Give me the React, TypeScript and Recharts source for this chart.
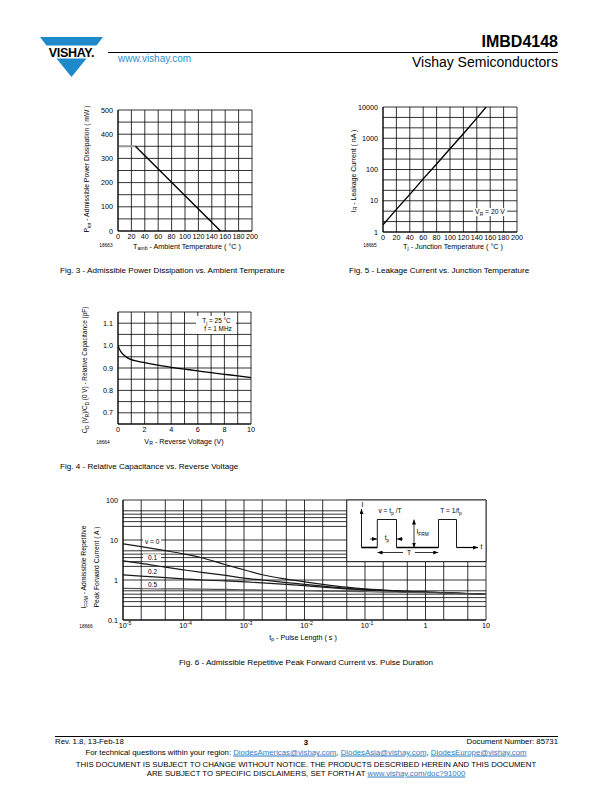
import React from 'react';
import { LineChart, Line, XAxis, YAxis, CartesianGrid, ReferenceArea } from 'recharts';

const FONT = '"Liberation Sans", Arial, Helvetica, sans-serif';

// ---------- Fig. 3 data ----------
const fig3XTicks = [0, 20, 40, 60, 80, 100, 120, 140, 160, 180, 200];
const fig3YTicks = [0, 50, 100, 150, 200, 250, 300, 350, 400, 450, 500];
const fig3Temp = [0, 26, 153];
const fig3FlatPower = [350, 350, null];
const fig3SlopePower = [null, 350, 0];

// ---------- Fig. 5 data ----------
const fig5XTicks = [0, 20, 40, 60, 80, 100, 120, 140, 160, 180, 200];
const fig5YTicks = [1, 2.154, 4.642, 10, 21.54, 46.42, 100, 215.4, 464.2, 1000, 2154, 4642, 10000];
const fig5YLabels = [1, 10, 100, 1000, 10000];
const fig5Temp = [0, 20, 40, 60, 80, 100, 120, 140, 154];
const fig5Leak = [1.7, 5.3, 16, 50, 150, 460, 1400, 4400, 10000];

// ---------- Fig. 4 data ----------
const fig4XTicks = [0, 1, 2, 3, 4, 5, 6, 7, 8, 9, 10];
const fig4YTicks = [0.65, 0.7, 0.75, 0.8, 0.85, 0.9, 0.95, 1.0, 1.05, 1.1, 1.15];
const fig4YLabels = [0.7, 0.8, 0.9, 1.0, 1.1];
const fig4Vr = [0, 0.1, 0.25, 0.5, 1, 1.5, 2, 3, 4, 5, 6, 7, 8, 9, 10];
const fig4Cap = [1.0, 0.985, 0.97, 0.955, 0.937, 0.93, 0.924, 0.913, 0.903, 0.895, 0.887, 0.879, 0.872, 0.865, 0.857];

// ---------- Fig. 6 data ----------
const fig6XTicks = [1e-5, 2e-5, 5e-5, 1e-4, 2e-4, 5e-4, 1e-3, 2e-3, 5e-3, 0.01, 0.02, 0.05, 0.1, 0.2, 0.5, 1, 2, 5, 10];
const fig6XLabels = [1e-5, 1e-4, 1e-3, 0.01, 0.1, 1, 10];
const fig6YTicks = [0.1, 0.219, 0.288, 0.363, 0.442, 0.537, 1, 2.19, 2.88, 3.63, 4.42, 5.37, 10, 21.9, 28.8, 36.3, 44.2, 53.7, 100];
const fig6YLabels = [0.1, 1, 10, 100];
const fig6Tp = [1e-5, 2e-5, 5e-5, 1e-4, 2e-4, 5e-4, 1e-3, 2e-3, 5e-3, 0.01, 0.02, 0.05, 0.1, 0.2, 0.5, 1, 2, 5, 10];
const fig6V0 = [8, 6.8, 5.4, 4.5, 3.6, 2.4, 1.8, 1.35, 1.05, 0.9, 0.78, 0.66, 0.6, 0.56, 0.52, 0.5, 0.48, 0.46, 0.44];
const fig6V01 = [3.0, 2.6, 2.1, 1.8, 1.55, 1.3, 1.12, 1.0, 0.86, 0.78, 0.7, 0.62, 0.58, 0.55, 0.52, 0.5, 0.48, 0.46, 0.44];
const fig6V02 = [1.35, 1.25, 1.15, 1.07, 1.0, 0.95, 0.9, 0.85, 0.78, 0.72, 0.66, 0.6, 0.56, 0.54, 0.51, 0.5, 0.48, 0.46, 0.44];
const fig6V05 = [0.62, 0.61, 0.6, 0.6, 0.59, 0.58, 0.57, 0.56, 0.55, 0.54, 0.53, 0.52, 0.51, 0.5, 0.49, 0.48, 0.47, 0.45, 0.44];
const fig6InsetX = [0.05, 10];
const fig6InsetY = [2.88, 100];

// ---------- derived tables ----------
const fig3Data = fig3Temp.map((t, i) => ({ t, flat: fig3FlatPower[i], slope: fig3SlopePower[i] }));
const fig5Data = fig5Temp.map((t, i) => ({ t, ir: fig5Leak[i] }));
const fig4Data = fig4Vr.map((v, i) => ({ v, c: fig4Cap[i] }));
const fig6Data = fig6Tp.map((tp, i) => ({ tp, a: fig6V0[i], b: fig6V01[i], c: fig6V02[i], d: fig6V05[i] }));

const tickStyle = { fontSize: 7.2, fill: '#000', fontFamily: FONT };
const GRID = { stroke: '#000', strokeWidth: 0.8 };

type TP = {
  x: number; y: number; size?: number; anchor?: 'start' | 'middle' | 'end';
  bold?: boolean; color?: string; bg?: string; children: React.ReactNode; pad?: string;
};
function Txt({ x, y, size = 7, anchor = 'start', bold = false, color = '#000', bg, children, pad }: TP) {
  const tx = anchor === 'start' ? '0' : anchor === 'middle' ? '-50%' : '-100%';
  return (
    <div style={{
      position: 'absolute', left: x, top: y, transform: `translate(${tx},-50%)`,
      fontSize: size, lineHeight: 1.15, fontWeight: bold ? 700 : 400, color, whiteSpace: 'nowrap',
      background: bg, fontFamily: FONT, padding: pad,
    }}>{children}</div>
  );
}
function VTxt({ x, y, size = 6.8, children }: { x: number; y: number; size?: number; children: React.ReactNode }) {
  return (
    <div style={{
      position: 'absolute', left: x, top: y, transform: 'translate(-50%,-50%) rotate(-90deg)',
      fontSize: size, lineHeight: 1.15, whiteSpace: 'nowrap', fontFamily: FONT, color: '#000',
    }}>{children}</div>
  );
}
const Sb = ({ children }: { children: React.ReactNode }) => (
  <span style={{ fontSize: '0.72em', verticalAlign: '-0.3em', lineHeight: 0 }}>{children}</span>
);
const A = ({ children }: { children: React.ReactNode }) => (
  <span style={{ color: '#2f7dc0', textDecoration: 'underline' }}>{children}</span>
);

const PowTick = (props: any) => {
  const { x, y, payload } = props;
  const v = payload.value as number;
  if (!fig6XLabels.includes(v)) return <g />;
  const e = Math.round(Math.log10(v));
  if (e >= 0) {
    return <text x={x} y={y} dy="0.71em" textAnchor="middle" fontSize={7.2} fontFamily={FONT} fill="#000">{e === 0 ? '1' : '10'}</text>;
  }
  return (
    <text x={x + 2} y={y} dy="0.71em" textAnchor="middle" fontSize={7.2} fontFamily={FONT} fill="#000">
      10<tspan dy={-3} fontSize={5.2}>{'-' + -e}</tspan>
    </text>
  );
};

function Fig3() {
  return (
    <div style={{ position: 'absolute', left: 88, top: 104 }}>
      <LineChart width={172} height={141} data={fig3Data} margin={{ top: 6, right: 8, bottom: 0, left: 0 }}>
        <CartesianGrid {...GRID} />
        <XAxis type="number" dataKey="t" domain={[0, 200]} ticks={fig3XTicks} interval={0} allowDataOverflow
          tickLine={false} tickSize={0} tickMargin={3} height={14} axisLine={{ stroke: '#000' }} tick={tickStyle} />
        <YAxis type="number" domain={[0, 500]} ticks={fig3YTicks} interval={0} allowDataOverflow
          width={30} tickLine={false} tickSize={0} tickMargin={5} axisLine={{ stroke: '#000' }} tick={tickStyle}
          tickFormatter={(v: number) => (v % 100 === 0 ? String(v) : '')} />
        <Line dataKey="flat" type="linear" stroke="#9a9a9a" strokeWidth={2} dot={false} connectNulls={false} isAnimationActive={false} />
        <Line dataKey="slope" type="linear" stroke="#000" strokeWidth={1.4} dot={false} connectNulls={false} isAnimationActive={false} />
      </LineChart>
    </div>
  );
}

function Fig5() {
  return (
    <div style={{ position: 'absolute', left: 353, top: 101 }}>
      <LineChart width={172} height={145} data={fig5Data} margin={{ top: 6, right: 8, bottom: 0, left: 0 }}>
        <CartesianGrid {...GRID} />
        <XAxis type="number" dataKey="t" domain={[0, 200]} ticks={fig5XTicks} interval={0} allowDataOverflow
          tickLine={false} tickSize={0} tickMargin={3} height={14} axisLine={{ stroke: '#000' }} tick={tickStyle} />
        <YAxis type="number" scale="log" domain={[1, 10000]} ticks={fig5YTicks} interval={0} allowDataOverflow
          width={30} tickLine={false} tickSize={0} tickMargin={5} axisLine={{ stroke: '#000' }} tick={tickStyle}
          tickFormatter={(v: number) => (fig5YLabels.includes(v) ? String(v) : '')} />
        <Line dataKey="ir" type="linear" stroke="#000" strokeWidth={1.4} dot={false} isAnimationActive={false} />
      </LineChart>
    </div>
  );
}

function Fig4() {
  return (
    <div style={{ position: 'absolute', left: 88, top: 306 }}>
      <LineChart width={171} height={132} data={fig4Data} margin={{ top: 6, right: 8, bottom: 0, left: 0 }}>
        <CartesianGrid {...GRID} />
        <XAxis type="number" dataKey="v" domain={[0, 10]} ticks={fig4XTicks} interval={0} allowDataOverflow
          tickLine={false} tickSize={0} tickMargin={3} height={14} axisLine={{ stroke: '#000' }} tick={tickStyle}
          tickFormatter={(v: number) => (v % 2 === 0 ? String(v) : '')} />
        <YAxis type="number" domain={[0.65, 1.15]} ticks={fig4YTicks} interval={0} allowDataOverflow
          width={30} tickLine={false} tickSize={0} tickMargin={5} axisLine={{ stroke: '#000' }} tick={tickStyle}
          tickFormatter={(v: number) => (fig4YLabels.includes(v) ? v.toFixed(1) : '')} />
        <Line dataKey="c" type="monotone" stroke="#000" strokeWidth={1.3} dot={false} isAnimationActive={false} />
      </LineChart>
    </div>
  );
}

function Fig6() {
  return (
    <div style={{ position: 'absolute', left: 93, top: 494 }}>
      <LineChart width={401} height={140} data={fig6Data} margin={{ top: 6, right: 8, bottom: 0, left: 0 }}>
        <CartesianGrid {...GRID} />
        <XAxis type="number" scale="log" dataKey="tp" domain={[1e-5, 10]} ticks={fig6XTicks} interval={0} allowDataOverflow
          tickLine={false} tickSize={0} tickMargin={3} height={14} axisLine={{ stroke: '#000' }} tick={<PowTick />} />
        <YAxis type="number" scale="log" domain={[0.1, 100]} ticks={fig6YTicks} interval={0} allowDataOverflow
          width={30} tickLine={false} tickSize={0} tickMargin={5} axisLine={{ stroke: '#000' }} tick={tickStyle}
          tickFormatter={(v: number) => (fig6YLabels.includes(v) ? String(v) : '')} />
        <ReferenceArea x1={fig6InsetX[0]} x2={fig6InsetX[1]} y1={fig6InsetY[0]} y2={fig6InsetY[1]}
          fill="#fff" fillOpacity={1} stroke="#000" strokeWidth={0.8} />
        <Line dataKey="a" type="monotone" stroke="#1a1a1a" strokeWidth={1.2} dot={false} isAnimationActive={false} />
        <Line dataKey="b" type="monotone" stroke="#1a1a1a" strokeWidth={1.2} dot={false} isAnimationActive={false} />
        <Line dataKey="c" type="monotone" stroke="#1a1a1a" strokeWidth={1.2} dot={false} isAnimationActive={false} />
        <Line dataKey="d" type="monotone" stroke="#555" strokeWidth={1.2} dot={false} isAnimationActive={false} />
      </LineChart>
    </div>
  );
}

function PulseInset() {
  // schematic drawn inside the white inset of Fig. 6 (offset 348,500)
  const ox = 348, oy = 500;
  const X = (v: number) => v - ox, Y = (v: number) => v - oy;
  return (
    <svg style={{ position: 'absolute', left: ox, top: oy }} width={138} height={60}>
      <defs>
        <marker id="ah" markerWidth="5" markerHeight="4" refX="5" refY="2" orient="auto" markerUnits="userSpaceOnUse">
          <path d="M0,0 L5,2 L0,4 z" fill="#000" />
        </marker>
      </defs>
      <line x1={X(361.5)} y1={Y(547.5)} x2={X(361.5)} y2={Y(509)} stroke="#000" strokeWidth={0.9} markerEnd="url(#ah)" />
      <polyline fill="none" stroke="#000" strokeWidth={0.9}
        points={`${X(377.3)},${Y(547.5)} ${X(377.3)},${Y(519.5)} ${X(396.5)},${Y(519.5)} ${X(396.5)},${Y(547.5)}`} />
      <polyline fill="none" stroke="#000" strokeWidth={0.9}
        points={`${X(438.5)},${Y(547.5)} ${X(438.5)},${Y(519.5)} ${X(456.5)},${Y(519.5)} ${X(456.5)},${Y(547.5)}`} />
      <line x1={X(361.5)} y1={Y(547.5)} x2={X(377.3)} y2={Y(547.5)} stroke="#000" strokeWidth={1.6} />
      <line x1={X(396.5)} y1={Y(547.5)} x2={X(438.5)} y2={Y(547.5)} stroke="#000" strokeWidth={1.6} />
      <line x1={X(456.5)} y1={Y(547.5)} x2={X(478)} y2={Y(547.5)} stroke="#000" strokeWidth={1.2} markerEnd="url(#ah)" />
      <line x1={X(414)} y1={Y(533)} x2={X(414)} y2={Y(519.5)} stroke="#000" strokeWidth={0.8} markerEnd="url(#ah)" />
      <line x1={X(414)} y1={Y(533)} x2={X(414)} y2={Y(547.5)} stroke="#000" strokeWidth={0.8} markerEnd="url(#ah)" />
      <line x1={X(370)} y1={Y(539)} x2={X(377)} y2={Y(539)} stroke="#000" strokeWidth={0.8} markerEnd="url(#ah)" />
      <line x1={X(403)} y1={Y(539)} x2={X(397)} y2={Y(539)} stroke="#000" strokeWidth={0.8} markerEnd="url(#ah)" />
      <line x1={X(403)} y1={Y(552.5)} x2={X(377.5)} y2={Y(552.5)} stroke="#000" strokeWidth={0.8} markerEnd="url(#ah)" />
      <line x1={X(415)} y1={Y(552.5)} x2={X(438.3)} y2={Y(552.5)} stroke="#000" strokeWidth={0.8} markerEnd="url(#ah)" />
    </svg>
  );
}

function Logo() {
  const blue = '#1f8acb';
  return (
    <svg style={{ position: 'absolute', left: 0, top: 0 }} width={130} height={90}>
      <polygon points="40,37 103,37 96.5,45.5 46.5,45.5" fill={blue} />
      <polygon points="56.5,58.5 86.5,58.5 71.5,77" fill={blue} />
      <text x={71.5} y={56.5} textAnchor="middle" fontFamily={FONT} fontWeight={700} fontSize={12.5} fill="#000" letterSpacing={-0.3}>VISHAY.</text>
    </svg>
  );
}

const CAP = 8.1;
const FOOT = 7.8;

export default function App() {
  return (
    <div style={{ position: 'absolute', left: 0, top: 0, width: 612, height: 792, background: '#fff', overflow: 'hidden', fontFamily: FONT }}>
      {/* header */}
      <Logo />
      <Txt x={558} y={42} size={16} anchor="end" bold>IMBD4148</Txt>
      <div style={{ position: 'absolute', left: 108, top: 52, width: 450, height: 1, background: '#000' }} />
      <Txt x={118} y={58.5} size={10} color="#2f8fd0">www.vishay.com</Txt>
      <Txt x={558} y={62} size={14} anchor="end">Vishay Semiconductors</Txt>

      {/* Fig 3 */}
      <Fig3 />
      <VTxt x={86.5} y={169} size={6.8}>P<Sb>tot</Sb> - Admissible Power Dissipation ( mW )</VTxt>
      <Txt x={187} y={246.5} size={7.2} anchor="middle">T<Sb>amb</Sb> - Ambient Temperature ( °C )</Txt>
      <Txt x={106} y={246} size={4.8} anchor="middle">18663</Txt>
      <Txt x={60} y={271} size={CAP}>Fig. 3 - Admissible Power Dissipation vs. Ambient Temperature</Txt>

      {/* Fig 5 */}
      <Fig5 />
      <VTxt x={353.5} y={171} size={7}>I<Sb>R</Sb> - Leakage Current ( nA )</VTxt>
      <Txt x={453} y={246.5} size={7.2} anchor="middle">T<Sb>j</Sb> - Junction Temperature ( °C )</Txt>
      <Txt x={370} y={246} size={4.8} anchor="middle">18665</Txt>
      <Txt x={490} y={212} size={6.8} anchor="middle" bg="#fff" pad="0 2px">V<Sb>R</Sb> = 20 V</Txt>
      <Txt x={349} y={271} size={CAP}>Fig. 5 - Leakage Current vs. Junction Temperature</Txt>

      {/* Fig 4 */}
      <Fig4 />
      <VTxt x={85} y={370} size={6.4}>C<Sb>D</Sb> (V<Sb>R</Sb>)/C<Sb>D</Sb> (0 V) - Relative Capacitance (pF)</VTxt>
      <Txt x={184} y={442} size={7.2} anchor="middle">V<Sb>R</Sb> - Reverse Voltage (V)</Txt>
      <Txt x={103} y={443} size={4.8} anchor="middle">18664</Txt>
      <div style={{ position: 'absolute', left: 196, top: 315.5, width: 40, height: 18, background: '#fff' }} />
      <Txt x={216.5} y={321} size={6.4} anchor="middle">T<Sb>j</Sb> = 25 °C</Txt>
      <Txt x={218} y={328.5} size={6.4} anchor="middle">f = 1 MHz</Txt>
      <Txt x={60} y={467} size={CAP}>Fig. 4 - Relative Capacitance vs. Reverse Voltage</Txt>

      {/* Fig 6 */}
      <Fig6 />
      <PulseInset />
      <Txt x={361.5} y={504.5} size={7}>I</Txt>
      <Txt x={390} y={511} size={6.6} anchor="middle">v = t<Sb>p</Sb> /T</Txt>
      <Txt x={451} y={511} size={6.6} anchor="middle">T = 1/f<Sb>p</Sb></Txt>
      <Txt x={416.5} y={531.5} size={6.6}>I<Sb>FRM</Sb></Txt>
      <Txt x={387} y={538} size={6.6} anchor="middle">t<Sb>p</Sb></Txt>
      <Txt x={409} y={552.5} size={6.6} anchor="middle">T</Txt>
      <Txt x={480.5} y={547} size={6.6}>t</Txt>
      <Txt x={143} y={541.5} size={6.5} bg="#fff" pad="0 2px">v = 0</Txt>
      <Txt x={143} y={557.5} size={6.5} bg="#fff" pad="0 4px 0 5px">0.1</Txt>
      <Txt x={143} y={572} size={6.5} bg="#fff" pad="0 4px 0 5px">0.2</Txt>
      <Txt x={143} y={584.5} size={6.5} bg="#fff" pad="0 4px 0 5px">0.5</Txt>
      <VTxt x={83.5} y={567} size={6.8}>I<Sb>FRM</Sb> - Admissible Repetitive</VTxt>
      <VTxt x={96.5} y={567} size={6.8}>Peak Forward Current ( A )</VTxt>
      <Txt x={86} y={627} size={4.8} anchor="middle">18666</Txt>
      <Txt x={303} y={637.5} size={7.2} anchor="middle">t<Sb>p</Sb> - Pulse Length ( s )</Txt>
      <Txt x={306} y={663} size={CAP} anchor="middle">Fig. 6 - Admissible Repetitive Peak Forward Current vs. Pulse Duration</Txt>

      {/* footer */}
      <div style={{ position: 'absolute', left: 55, top: 736, width: 503, height: 1, background: '#000' }} />
      <Txt x={55} y={742} size={FOOT}>Rev. 1.8, 13-Feb-18</Txt>
      <Txt x={306} y={743} size={FOOT} anchor="middle" bold>3</Txt>
      <Txt x={558} y={742} size={FOOT} anchor="end">Document Number: 85731</Txt>
      <Txt x={306} y={753} size={FOOT} anchor="middle">
        For technical questions within your region: <A>DiodesAmericas@vishay.com</A>, <A>DiodesAsia@vishay.com</A>, <A>DiodesEurope@vishay.com</A>
      </Txt>
      <Txt x={306} y={764.5} size={FOOT} anchor="middle">THIS DOCUMENT IS SUBJECT TO CHANGE WITHOUT NOTICE. THE PRODUCTS DESCRIBED HEREIN AND THIS DOCUMENT</Txt>
      <Txt x={306} y={773.5} size={FOOT} anchor="middle">ARE SUBJECT TO SPECIFIC DISCLAIMERS, SET FORTH AT <A>www.vishay.com/doc?91000</A></Txt>
    </div>
  );
}
